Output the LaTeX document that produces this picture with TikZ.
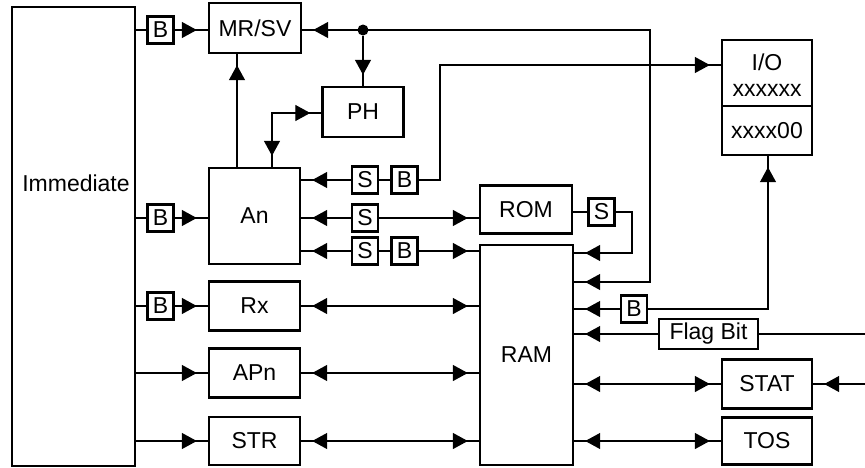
\documentclass[tikz,border=0pt]{standalone}
\usepackage{fontspec}
\setmainfont{Liberation Sans}
\usetikzlibrary{arrows.meta,decorations.markings}
\begin{document}
\begin{tikzpicture}[x=1pt,y=-1pt,
  font=\fontsize{23}{27}\selectfont,
  box/.style={draw, line width=2.4pt, inner sep=0pt, fill=white},
  sbox/.style={box, line width=2.2pt, minimum width=26pt, minimum height=27pt},
  conn/.style={line width=1.3pt},
  ae/.style={postaction={decorate, decoration={markings,
     mark=at position -11pt with {\arrow{Triangle[length=15pt,width=16pt]}}}}},
  as/.style={postaction={decorate, decoration={markings,
     mark=at position 11pt with {\arrowreversed{Triangle[length=15pt,width=16pt]}}}}},
  dotnode/.style={circle, fill=black, inner sep=0pt, minimum size=11pt}]
\useasboundingbox (0,0) rectangle (865,467);
% main boxes
\node[box, minimum width=123pt, minimum height=459pt] (imm) at (73.5,236.5) {};
\node (immtext) at (76,183) {Immediate};
\node[box, minimum width=92pt, minimum height=50pt] (mrsv) at (255,28) {MR/SV};
\node[box, minimum width=81pt, minimum height=50pt] (ph) at (363,112) {PH};
\node[box, minimum width=91pt, minimum height=96pt] (an) at (254.5,216) {An};
\node[box, minimum width=92pt, minimum height=48pt] (rom) at (526,209.5) {ROM};
\node[box, minimum width=93pt, minimum height=220pt] (ram) at (526.5,355) {RAM};
\node[box, minimum width=91pt, minimum height=49pt] (rx) at (254.5,306) {Rx};
\node[box, minimum width=91pt, minimum height=49pt] (apn) at (254.5,373) {APn};
\node[box, minimum width=91pt, minimum height=48pt] (str) at (254.5,441) {STR};
\node[box, minimum width=90pt, minimum height=66pt] (iotop) at (767,73) {};
\node (iotxt1) at (767,62) {I/O};
\node (iotxt2) at (767,90) {xxxxxx};
\node[box, minimum width=90pt, minimum height=49pt] (iobot) at (767,130.5) {xxxx00};
\node[box, minimum width=90pt, minimum height=49pt] (stat) at (767,384) {STAT};
\node[box, minimum width=90pt, minimum height=47pt] (tos) at (767,441) {TOS};
\node[box, line width=2.2pt, minimum width=99pt, minimum height=30pt] (flag) at (708.5,334) {Flag Bit};
% small boxes
\node[sbox] (bmr) at (160.5,30) {B};
\node[sbox] (ban) at (160.5,218) {B};
\node[sbox] (brx) at (160.5,306) {B};
\node[sbox] (s1) at (365,180) {S};
\node[sbox] (b1) at (404.5,180) {B};
\node[sbox] (s2) at (365,218) {S};
\node[sbox] (s3) at (365,251) {S};
\node[sbox] (b3) at (404.5,251) {B};
\node[sbox] (srom) at (601.5,212) {S};
\node[sbox] (bram) at (634,309) {B};
% coordinates
\node[dotnode] (dot) at (363,30) {};
\coordinate (anU) at (237,0);
\coordinate (g1) at (272,113);
\coordinate (c1) at (650,30);
\coordinate (c2) at (650,282);
\coordinate (d1) at (440,180);
\coordinate (d2) at (440,65);
\coordinate (e1) at (632,212);
\coordinate (e2) at (632,253);
\coordinate (f1) at (768,309);
\coordinate (rflag) at (865,334);
\coordinate (rstat) at (865,384);
% left side connectors
\draw[conn] (imm.east |- bmr) -- (bmr.west);
\draw[conn,ae] (bmr.east) -- (mrsv.west |- bmr.east);
\draw[conn] (imm.east |- ban) -- (ban.west);
\draw[conn,ae] (ban.east) -- (an.west |- ban.east);
\draw[conn] (imm.east |- brx) -- (brx.west);
\draw[conn,ae] (brx.east) -- (rx.west |- brx.east);
\draw[conn,ae] (imm.east |- apn.west) -- (apn.west);
\draw[conn,ae] (imm.east |- str.west) -- (str.west);
% An up
\draw[conn,ae] (an.north -| anU) -- (mrsv.south -| anU);
\draw[conn,as,ae] (an.north -| g1) -- (g1) -- (ph.west |- g1);
% MR/SV bus
\draw[conn,as,ae] (mrsv.east |- c1) -- (c1) -- (c2) -- (ram.east |- c2);
\draw[conn,ae] (dot) -- (ph.north -| dot);
% An rows
\draw[conn,as] (an.east |- s1) -- (s1.west);
\draw[conn] (s1.east) -- (b1.west);
\draw[conn,ae] (b1.east) -- (d1) -- (d2) -- (iotop.west |- d2);
\draw[conn,as] (an.east |- s2) -- (s2.west);
\draw[conn,ae] (s2.east) -- (rom.west |- s2.east);
\draw[conn,as] (an.east |- s3) -- (s3.west);
\draw[conn] (s3.east) -- (b3.west);
\draw[conn,ae] (b3.east) -- (ram.west |- b3.east);
% ROM loop
\draw[conn] (rom.east |- srom) -- (srom.west);
\draw[conn,ae] (srom.east) -- (e1) -- (e2) -- (ram.east |- e2);
% register rows
\draw[conn,as,ae] (rx.east) -- (ram.west |- rx.east);
\draw[conn,as,ae] (apn.east) -- (ram.west |- apn.east);
\draw[conn,as,ae] (str.east) -- (ram.west |- str.east);
% RAM right side
\draw[conn,as] (ram.east |- bram) -- (bram.west);
\draw[conn,ae] (bram.east) -- (f1) -- (iobot.south -| f1);
\draw[conn,as] (ram.east |- flag) -- (flag.west);
\draw[conn] (flag.east) -- (rflag);
\draw[conn,as,ae] (ram.east |- stat.west) -- (stat.west);
\draw[conn,ae] (rstat) -- (stat.east);
\draw[conn,as,ae] (ram.east |- tos.west) -- (tos.west);
\end{tikzpicture}
\end{document}
